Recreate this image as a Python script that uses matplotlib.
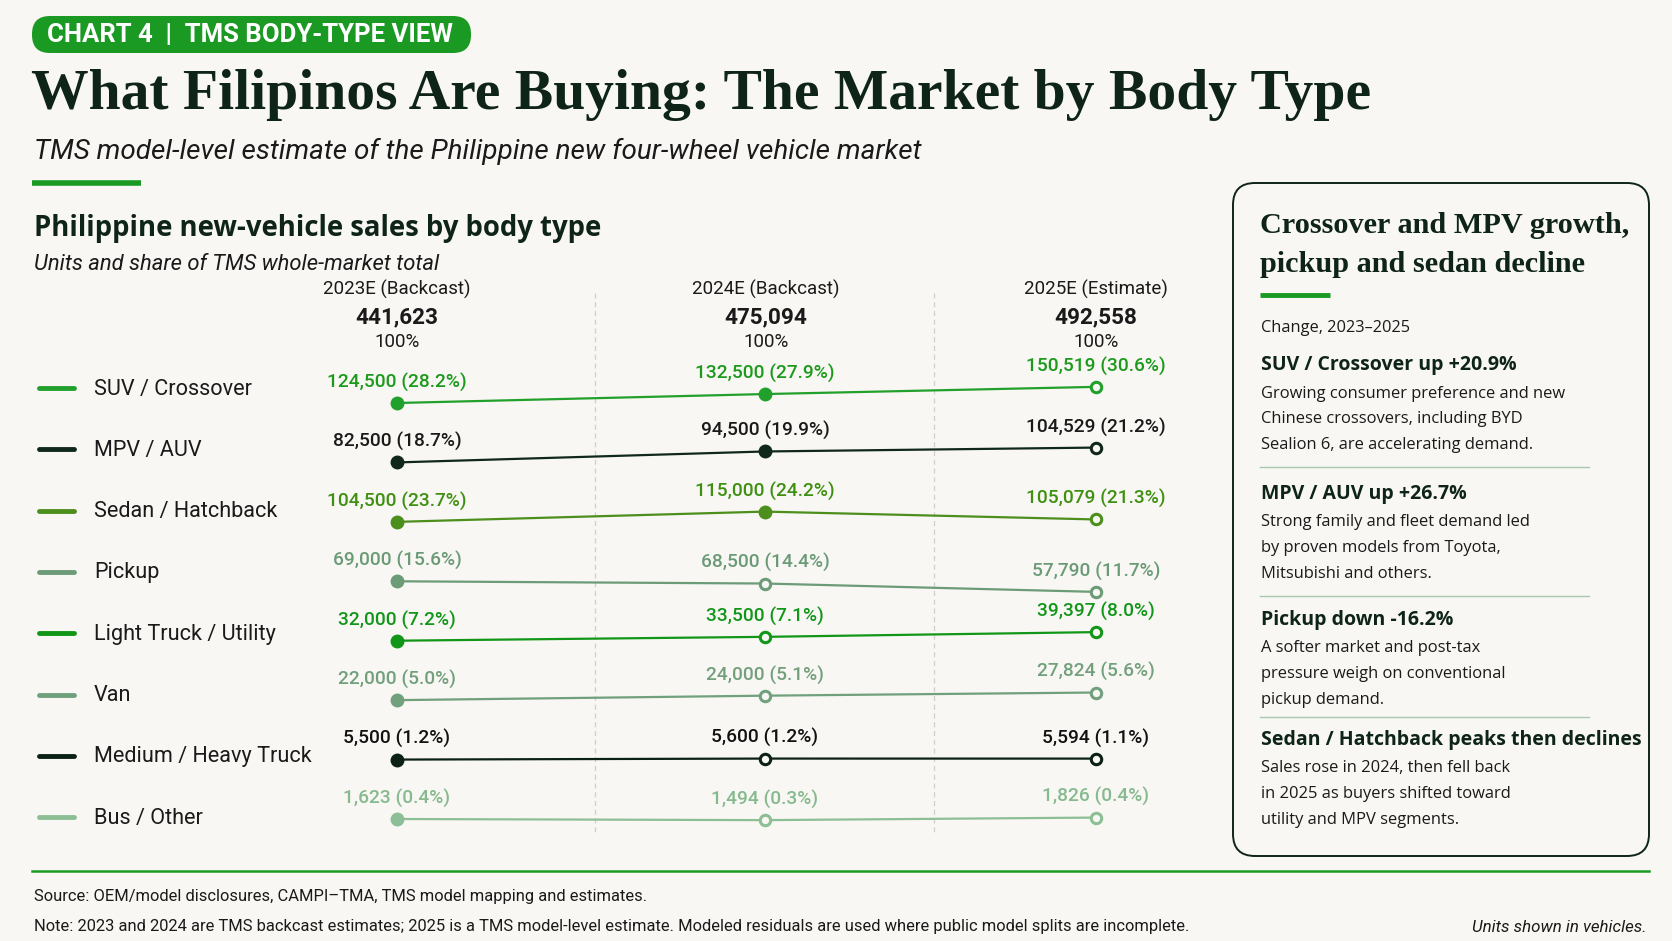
import numpy as np
import matplotlib.pyplot as plt
from matplotlib.patches import FancyBboxPatch

plt.rcParams['font.family'] = ['Roboto', 'DejaVu Sans']

# ---- data ----
years = ['2023E (Backcast)', '2024E (Backcast)', '2025E (Estimate)']
totals = [441623, 475094, 492558]
segments = ['SUV / Crossover', 'MPV / AUV', 'Sedan / Hatchback', 'Pickup',
            'Light Truck / Utility', 'Van', 'Medium / Heavy Truck', 'Bus / Other']
units_2023 = [124500, 82500, 104500, 69000, 32000, 22000, 5500, 1623]
units_2024 = [132500, 94500, 115000, 68500, 33500, 24000, 5600, 1494]
units_2025 = [150519, 104529, 105079, 57790, 39397, 27824, 5594, 1826]
share_2023 = [28.2, 18.7, 23.7, 15.6, 7.2, 5.0, 1.2, 0.4]
share_2024 = [27.9, 19.9, 24.2, 14.4, 7.1, 5.1, 1.2, 0.3]
share_2025 = [30.6, 21.2, 21.3, 11.7, 8.0, 5.6, 1.1, 0.4]

notes_head = ['SUV / Crossover up +20.9%', 'MPV / AUV up +26.7%',
              'Pickup down -16.2%', 'Sedan / Hatchback peaks then declines']
notes_body = [['Growing consumer preference and new', 'Chinese crossovers, including BYD',
               'Sealion 6, are accelerating demand.'],
              ['Strong family and fleet demand led', 'by proven models from Toyota,',
               'Mitsubishi and others.'],
              ['A softer market and post-tax', 'pressure weigh on conventional',
               'pickup demand.'],
              ['Sales rose in 2024, then fell back', 'in 2025 as buyers shifted toward',
               'utility and MPV segments.']]

# ---- styles ----
BG = '#f8f7f3'
GREEN = '#1a9a22'
DARK = '#0f2419'
line_colors = ['#22a02c', '#10281c', '#4d8f1c', '#6c9b78', '#119618', '#70a07c', '#0c2116', '#8cbf95']
text_colors = ['#1c9a1c', '#1a1a1a', '#3f9012', '#6a9a76', '#12961a', '#72a07c', '#111111', '#86b98e']
filled_2024 = [True, True, True, False, False, False, False, False]
col_x = [0.0, 1.053, 2.0]     # column positions on the chart axis
ROW_PX = 59.4                 # row spacing in pixels

W, H = 1672, 941
fig = plt.figure(figsize=(W / 100, H / 100), dpi=100, facecolor=BG)

# decoration layer in pixel coordinates
deco = fig.add_axes([0, 0, 1, 1])
deco.set_xlim(0, W)
deco.set_ylim(H, 0)
deco.axis('off')
deco.set_facecolor(BG)

# header pill
deco.add_patch(FancyBboxPatch((32, 16), 439, 37, boxstyle='round,pad=0,rounding_size=18',
                              fc=GREEN, ec='none'))
deco.text(47, 35, 'CHART 4  |  TMS BODY-TYPE VIEW', color='white', fontsize=18.5,
          fontweight='bold', va='center', ha='left')

deco.text(31, 95, 'What Filipinos Are Buying: The Market by Body Type', fontsize=41.5,
          fontweight='bold', family='Liberation Serif', color=DARK, va='center')
deco.text(34, 151, 'TMS model-level estimate of the Philippine new four-wheel vehicle market',
          fontsize=20.1, style='italic', color='#1a1a1a', va='center')
deco.plot([32, 141], [183, 183], color=GREEN, lw=4, solid_capstyle='butt')

deco.text(34, 228, 'Philippine new-vehicle sales by body type', fontsize=19.8,
          fontweight='bold', family='Open Sans', color=DARK, va='center')
deco.text(34, 265, 'Units and share of TMS whole-market total', fontsize=15.8,
          style='italic', color='#1a1a1a', va='center')

# column headers
col_px = [397, 766, 1096]
for x, lab, tot in zip(col_px, years, totals):
    deco.text(x, 289, lab, fontsize=13.5, ha='center', va='center', color='#1a1a1a')
    deco.text(x, 317, f'{tot:,}', fontsize=16.2, fontweight='bold', ha='center', va='center', color='#1a1a1a')
    deco.text(x, 342, '100%', fontsize=13.5, ha='center', va='center', color='#1a1a1a')

for x in [595, 934]:
    deco.plot([x, x], [293, 832], color='#cfcfcb', lw=0.9, ls=(0, (4, 3)))

# legend
for i, (seg, c) in enumerate(zip(segments, line_colors)):
    y = 388 + i * 61.3
    deco.plot([39, 74], [y, y], color=c, lw=3.5, solid_capstyle='round')
    deco.text(94, y + 1, seg, fontsize=15.6, va='center', color='#1a1a1a')

# bottom rule and footer
deco.plot([32, 1649], [871, 871], color=GREEN, lw=1.8)
deco.text(34, 896, 'Source: OEM/model disclosures, CAMPI\u2013TMA, TMS model mapping and estimates.',
          fontsize=11.9, va='center', color='#1a1a1a')
deco.text(34, 927, 'Note: 2023 and 2024 are TMS backcast estimates; 2025 is a TMS model-level estimate. '
          'Modeled residuals are used where public model splits are incomplete.',
          fontsize=11.9, va='center', color='#1a1a1a')
deco.text(1647, 927, 'Units shown in vehicles.', fontsize=12.2, style='italic',
          ha='right', va='center', color='#1a1a1a')

# right panel
deco.add_patch(FancyBboxPatch((1233, 183), 416, 673, boxstyle='round,pad=0,rounding_size=22',
                              fc='none', ec=DARK, lw=1.4))
deco.text(1260, 245, 'Crossover and MPV growth,\npickup and sedan decline', fontsize=21.8,
          fontweight='bold', family='Liberation Serif', color=DARK, va='center', linespacing=1.55)
deco.plot([1260, 1330], [295, 295], color=GREEN, lw=3.5, solid_capstyle='butt')
deco.text(1261, 328, 'Change, 2023\u20132025', fontsize=11.8, family='Open Sans', va='center', color='#1a1a1a')
head_y = [365, 494, 620, 740]
for k, (hd, bd, hy) in enumerate(zip(notes_head, notes_body, head_y)):
    deco.text(1261, hy, hd, fontsize=14, fontweight='bold', family='Open Sans', va='center', color=DARK)
    for m, line in enumerate(bd):
        deco.text(1261, hy + 28.5 + m * 25.6, line, fontsize=11.9, family='Open Sans',
                  va='center', color='#1a1a1a')
    if k < 3:
        sy = hy + 102 if k < 2 else hy + 97
        deco.plot([1260, 1589], [sy, sy], color='#a9c9ae', lw=1)

# ---- slope chart ----
ax = fig.add_axes([397 / W, 1 - 819 / H, 699 / W, 416 / H])
ax.set_xlim(0, 2)
ax.set_ylim(7, 0)
ax.axis('off')
ax.patch.set_alpha(0)

xs = np.array(col_x)
for i in range(len(segments)):
    u = np.array([units_2023[i], units_2024[i], units_2025[i]], dtype=float)
    s = [share_2023[i], share_2024[i], share_2025[i]]
    # signed square-root of the change vs 2023, shown as a small rise/fall within the row
    d = u - u[0]
    ys = i - np.sign(d) * np.sqrt(np.abs(d)) / 10 / ROW_PX
    c = line_colors[i]
    ax.plot(xs, ys, color=c, lw=1.6, zorder=2, clip_on=False)
    for j in range(3):
        filled = j == 0 or (j == 1 and filled_2024[i])
        if filled:
            ax.plot(xs[j], ys[j], 'o', ms=9, color=c, zorder=3, clip_on=False)
        else:
            ax.plot(xs[j], ys[j], 'o', ms=7.5, mfc=BG, mec=c, mew=2.2, zorder=3, clip_on=False)
        ax.annotate(f'{int(u[j]):,} ({s[j]:.1f}%)', (xs[j], ys[j]), xytext=(0, 11),
                    textcoords='offset points', ha='center', va='baseline',
                    fontsize=13.8, fontweight='medium', color=text_colors[i],
                    annotation_clip=False)

fig.savefig('out.png', dpi=100, facecolor=BG)
